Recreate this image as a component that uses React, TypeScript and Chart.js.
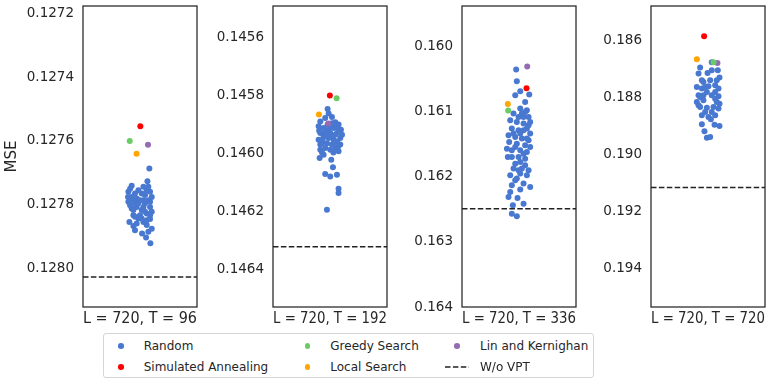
import React, { useEffect, useRef } from 'react';
import { Chart, registerables } from 'chart.js';

Chart.register(...registerables);

const FONT = "'DejaVu Sans', 'Liberation Sans', sans-serif";
const TEXT = '#262626';

const seriesNames = ['Random', 'Simulated Annealing', 'Greedy Search', 'Local Search', 'Lin and Kernighan', 'W/o VPT'];
const seriesColors = ['#4878d0', '#ff0000', '#6acc64', '#ffa500', '#956cb4', '#222222'];

const panelLabels = ['L = 720, T = 96', 'L = 720, T = 192', 'L = 720, T = 336', 'L = 720, T = 720'];

// y tick labels per panel
const p1Ticks = [0.1272, 0.1274, 0.1276, 0.1278, 0.128];
const p2Ticks = [0.1456, 0.1458, 0.146, 0.1462, 0.1464];
const p3Ticks = [0.16, 0.161, 0.162, 0.163, 0.164];
const p4Ticks = [0.186, 0.188, 0.19, 0.192, 0.194];
const tickDecimals = [4, 4, 3, 3];

// y ranges (axis is inverted)
const yMins = [0.127178, 0.14549, 0.15937, 0.18477];
const yMaxs = [0.128119, 0.146528, 0.164, 0.19537];

// W/o VPT baselines
const baselines = [0.128025, 0.14632, 0.16249, 0.19116];

// [jitter, MSE]
const saPoints = [[0.003, 0.127554], [-0.001, 0.145799], [0.066, 0.160636], [-0.034, 0.185835]];
const greedyPoints = [[-0.09, 0.1276], [0.058, 0.145808], [-0.095, 0.160979], [0.048, 0.186751]];
const localPoints = [[-0.03, 0.12764], [-0.097, 0.145864], [-0.098, 0.160877], [-0.098, 0.186645]];
const lkPoints = [[0.07, 0.127612], [-0.015, 0.145895], [0.072, 0.160302], [0.083, 0.186775]];

const p1Random = [
  [0.082, 0.127686], [0.065, 0.127726], [-0.073, 0.12774], [-0.102, 0.127759], [-0.087, 0.12778],
  [-0.102, 0.12779], [-0.073, 0.127811], [-0.093, 0.127853], [-0.058, 0.127866], [-0.044, 0.127879],
  [0.018, 0.127889], [0.053, 0.127902], [0.091, 0.12792], [0.073, 0.127884], [0.103, 0.127874],
  [0.088, 0.127844], [0.103, 0.127821], [0.059, 0.127754], [0.03, 0.127743], [0.088, 0.127759],
  [0.103, 0.127775], [-0.014, 0.127754], [-0.044, 0.127764], [0.0, 0.127785], [0.044, 0.127795],
  [-0.029, 0.127806], [0.015, 0.127816], [0.059, 0.127827], [-0.058, 0.127832], [-0.014, 0.127842],
  [0.03, 0.127853], [0.059, 0.127863], [-0.044, 0.127795], [-0.073, 0.127775], [0.088, 0.127806],
  [0.044, 0.127769], [0.015, 0.127764], [-0.029, 0.12778], [-0.058, 0.127816], [0.0, 0.127832],
  [0.073, 0.127785], [-0.087, 0.127801], [0.03, 0.127806], [-0.014, 0.127795], [0.059, 0.127848],
  [-0.029, 0.127858], [0.073, 0.127743], [-0.105, 0.127775], [-0.087, 0.127749], [0.044, 0.127821],
  [0.015, 0.127842], [0.088, 0.127832], [-0.044, 0.127837], [0.03, 0.127785], [-0.058, 0.127785],
  [0.088, 0.12779],
];

const p2Random = [
  [-0.021, 0.145845], [-0.012, 0.145861], [-0.042, 0.145876], [0.017, 0.145873], [0.046, 0.145891],
  [0.075, 0.145899], [0.096, 0.145917], [-0.085, 0.145888], [-0.1, 0.145905], [-0.056, 0.145911],
  [-0.012, 0.145917], [0.032, 0.145911], [0.061, 0.145928], [0.09, 0.145945], [0.09, 0.145968],
  [0.075, 0.145991], [0.046, 0.14598], [0.002, 0.145986], [-0.042, 0.14598], [-0.085, 0.145986],
  [-0.1, 0.145951], [-0.085, 0.145928], [-0.056, 0.14594], [-0.012, 0.145945], [0.032, 0.145951],
  [0.061, 0.145957], [-0.027, 0.145963], [-0.071, 0.145963], [0.017, 0.145968], [-0.042, 0.145928],
  [0.002, 0.145928], [0.046, 0.145934], [-0.091, 0.146014], [-0.056, 0.146003], [0.011, 0.14602],
  [-0.042, 0.146069], [0.002, 0.146078], [0.061, 0.146072], [0.026, 0.146046], [0.075, 0.14612],
  [0.075, 0.146135], [-0.027, 0.146193], [0.061, 0.145905], [0.017, 0.145894], [-0.085, 0.145968],
  [0.105, 0.145934], [-0.021, 0.145899], [-0.03, 0.14593], [0.02, 0.14594], [0.07, 0.145975],
  [-0.065, 0.14595], [0.04, 0.14596], [-0.005, 0.145905], [0.08, 0.145915], [-0.095, 0.14592],
  [0.03, 0.145995], [-0.07, 0.145995],
];

const p3Random = [
  [-0.025, 0.160348], [-0.019, 0.160528], [0.011, 0.160682], [-0.033, 0.160743], [0.09, 0.160733],
  [0.054, 0.160846], [0.011, 0.160948], [-0.048, 0.161025], [0.054, 0.161], [0.084, 0.161077],
  [0.098, 0.161154], [-0.077, 0.161128], [-0.019, 0.161154], [0.04, 0.161179], [-0.063, 0.161256],
  [-0.004, 0.161282], [0.069, 0.161256], [0.098, 0.161333], [-0.092, 0.161359], [-0.033, 0.161384],
  [0.025, 0.16141], [0.084, 0.161436], [-0.086, 0.161461], [-0.019, 0.161487], [0.054, 0.161512],
  [0.098, 0.161538], [-0.063, 0.161589], [0.011, 0.161589], [0.069, 0.161615], [-0.098, 0.161692],
  [-0.004, 0.161692], [0.054, 0.161718], [-0.033, 0.161795], [-0.048, 0.161871], [0.025, 0.161871],
  [0.084, 0.161897], [-0.077, 0.161974], [0.011, 0.161948], [0.069, 0.161974], [0.04, 0.162102],
  [0.098, 0.162153], [-0.063, 0.162128], [0.011, 0.162194], [-0.092, 0.162307], [-0.077, 0.16223],
  [-0.013, 0.162323], [0.04, 0.16241], [-0.054, 0.162436], [-0.063, 0.162564], [-0.019, 0.162605],
  [0.011, 0.161333], [0.04, 0.161077], [-0.048, 0.161333], [-0.106, 0.161564], [0.054, 0.16182],
  [-0.019, 0.162025], [0.025, 0.161025], [0.069, 0.160974], [-0.004, 0.161077], [0.04, 0.161282],
  [0.084, 0.161205], [-0.033, 0.161538], [0.04, 0.161641], [0.011, 0.161769], [-0.063, 0.161692],
  [0.069, 0.16141], [-0.004, 0.161897], [-0.033, 0.162051],
];

const p4Random = [
  [0.033, 0.186751], [-0.069, 0.186939], [-0.083, 0.187151], [-0.004, 0.187127], [0.033, 0.187033],
  [0.086, 0.187033], [0.101, 0.187291], [0.019, 0.187385], [-0.04, 0.187444], [-0.098, 0.18762],
  [-0.054, 0.187679], [0.063, 0.187562], [0.092, 0.187679], [-0.01, 0.187797], [-0.083, 0.187914],
  [0.033, 0.187914], [0.092, 0.187949], [-0.098, 0.188149], [-0.04, 0.18809], [0.077, 0.188149],
  [-0.069, 0.188325], [-0.01, 0.188349], [0.048, 0.188325], [0.092, 0.188384], [-0.025, 0.188501],
  [0.033, 0.188501], [-0.04, 0.187914], [0.004, 0.187597], [-0.054, 0.187385], [0.025, 0.18876],
  [-0.054, 0.188936], [0.057, 0.188948], [0.101, 0.188995], [-0.031, 0.189183], [-0.01, 0.189406],
  [0.019, 0.189383], [0.063, 0.187797], [-0.083, 0.188267], [0.077, 0.187385], [-0.025, 0.18762],
  [-0.069, 0.187973], [0.063, 0.188032], [0.101, 0.188208], [-0.054, 0.188619], [0.063, 0.188619],
  [0.004, 0.188678],
];

const panelRandom = [p1Random, p2Random, p3Random, p4Random];
const panelTicks = [p1Ticks, p2Ticks, p3Ticks, p4Ticks];

// layout (pixels)
const plotLefts = [83, 273, 462, 651];
const PLOT_W = 114;
const AXIS_W = 80;
const RIGHT_PAD = 12;
const CANVAS_H = 330;
const DOT_R = 3;

const framePlugin = {
  id: 'frame',
  afterDraw(chart: any) {
    const { ctx, chartArea } = chart;
    const { left, top, right, bottom } = chartArea;
    ctx.save();
    ctx.strokeStyle = TEXT;
    ctx.lineWidth = 1.25;
    ctx.strokeRect(left, top, right - left, bottom - top);
    ctx.restore();
  },
};

function Panel({ index }: { index: number }) {
  const ref = useRef<HTMLCanvasElement | null>(null);
  const width = AXIS_W + PLOT_W + RIGHT_PAD;
  useEffect(() => {
    if (!ref.current) return;
    const toXY = (p: number[]) => ({ x: p[0], y: p[1] });
    const special = [saPoints, greedyPoints, localPoints, lkPoints];
    const ticks = panelTicks[index];
    const dec = tickDecimals[index];
    const datasets: any[] = [
      {
        label: seriesNames[0],
        data: panelRandom[index].map(toXY),
        backgroundColor: seriesColors[0],
        borderWidth: 0,
        pointRadius: DOT_R,
        order: 10,
      },
      ...special.map((arr, k) => ({
        label: seriesNames[k + 1],
        data: [toXY(arr[index])],
        backgroundColor: seriesColors[k + 1],
        borderWidth: 0,
        pointRadius: DOT_R,
        order: 2,
      })),
      {
        type: 'line',
        label: seriesNames[5],
        data: [
          { x: -0.5, y: baselines[index] },
          { x: 0.5, y: baselines[index] },
        ],
        borderColor: seriesColors[5],
        borderWidth: 1.5,
        borderDash: [5.5, 2.4],
        pointRadius: 0,
        showLine: true,
        fill: false,
        order: 1,
      },
    ];
    const chart = new Chart(ref.current, {
      type: 'scatter',
      data: { datasets },
      options: {
        responsive: false,
        animation: false,
        events: [],
        layout: { padding: { top: 6, left: 0, right: RIGHT_PAD, bottom: 0 } },
        plugins: { legend: { display: false }, tooltip: { enabled: false } },
        scales: {
          x: {
            type: 'linear',
            min: -0.5,
            max: 0.5,
            grid: { display: false, drawTicks: false },
            border: { display: false },
            ticks: { display: false },
            title: {
              display: true,
              text: panelLabels[index],
              color: TEXT,
              font: { family: FONT, size: 16 },
              padding: { top: 0, bottom: 2 },
            },
            afterFit: (s: any) => {
              s.height = 23;
              s.paddingLeft = 0;
              s.paddingRight = 0;
            },
          },
          y: {
            type: 'linear',
            reverse: true,
            min: yMins[index],
            max: yMaxs[index],
            grid: { display: false, drawTicks: false },
            border: { display: false },
            ticks: {
              color: TEXT,
              font: { family: FONT, size: 13.5 },
              padding: 9,
              callback: (v: any) => Number(v).toFixed(dec),
            },
            afterBuildTicks: (s: any) => {
              s.ticks = ticks.map((v) => ({ value: v }));
            },
            title: {
              display: index === 0,
              text: 'MSE',
              color: TEXT,
              font: { family: FONT, size: 15 },
              padding: { top: 0, bottom: 0 },
            },
            afterFit: (s: any) => {
              s.width = AXIS_W;
              s.paddingTop = 0;
              s.paddingBottom = 0;
            },
          },
        },
      } as any,
      plugins: [framePlugin],
    });
    return () => chart.destroy();
  }, [index]);
  return (
    <canvas
      ref={ref}
      width={width}
      height={CANVAS_H}
      style={{
        position: 'absolute',
        left: plotLefts[index] - AXIS_W,
        top: 0,
        width,
        height: CANVAS_H,
      }}
    />
  );
}

const legendCols = [17, 203.7, 353];
const legendTextCols = [39.7, 226.3, 376];
const legendRows = [12.2, 33.2];
// item index -> [column, row]
const legendLayout = [
  [0, 0],
  [0, 1],
  [1, 0],
  [1, 1],
  [2, 0],
  [2, 1],
];

function Legend() {
  return (
    <div
      style={{
        position: 'absolute',
        left: 103,
        top: 333,
        width: 489,
        height: 43,
        border: '1px solid #d5d5d5',
        borderRadius: 3,
        background: '#fff',
        fontFamily: FONT,
        fontSize: 12,
        color: TEXT,
      }}
    >
      {seriesNames.map((name, i) => {
        const [c, r] = legendLayout[i];
        const cx = legendCols[c];
        const cy = legendRows[r];
        const isLine = i === 5;
        return (
          <React.Fragment key={name}>
            {isLine ? (
              <svg
                width={26}
                height={4}
                style={{ position: 'absolute', left: cx - 12, top: cy - 2 }}
              >
                <line
                  x1={0}
                  y1={2}
                  x2={24}
                  y2={2}
                  stroke={seriesColors[5]}
                  strokeWidth={1.5}
                  strokeDasharray="5.5 2.4"
                />
              </svg>
            ) : (
              <div
                style={{
                  position: 'absolute',
                  left: cx - 2.8,
                  top: cy - 2.8,
                  width: 5.6,
                  height: 5.6,
                  borderRadius: '50%',
                  background: seriesColors[i],
                }}
              />
            )}
            <span
              style={{
                position: 'absolute',
                left: legendTextCols[c],
                top: cy - 8,
                lineHeight: '16px',
                whiteSpace: 'nowrap',
              }}
            >
              {name}
            </span>
          </React.Fragment>
        );
      })}
    </div>
  );
}

export default function App() {
  return (
    <div
      style={{
        position: 'fixed',
        left: 0,
        top: 0,
        width: 772,
        height: 386,
        overflow: 'hidden',
        background: '#fff',
      }}
    >
      {[0, 1, 2, 3].map((i) => (
        <Panel key={i} index={i} />
      ))}
      <Legend />
    </div>
  );
}
